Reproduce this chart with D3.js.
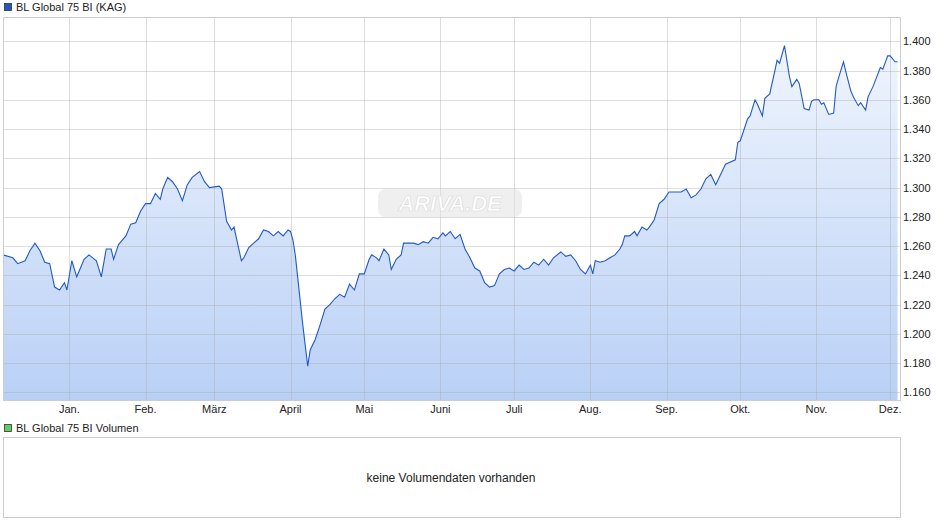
<!DOCTYPE html>
<html><head><meta charset="utf-8">
<script src="https://cdn.jsdelivr.net/npm/d3@7"></script>
<style>body{margin:0;background:#fff;font-family:"Liberation Sans",Arial,sans-serif}</style>
</head><body>
<svg id="chart" width="940" height="526"></svg>
<script>
var dates = ['2024-12-05','2024-12-09','2024-12-11','2024-12-14','2024-12-16','2024-12-18','2024-12-20','2024-12-22','2024-12-24','2024-12-26','2024-12-28','2024-12-30','2024-12-31',
'2025-01-02','2025-01-04','2025-01-07','2025-01-09','2025-01-12','2025-01-14','2025-01-16','2025-01-18','2025-01-19','2025-01-21','2025-01-24','2025-01-26','2025-01-28','2025-01-30',
'2025-02-01','2025-02-03','2025-02-05','2025-02-07','2025-02-08','2025-02-10','2025-02-12','2025-02-14','2025-02-16','2025-02-18','2025-02-20','2025-02-23','2025-02-25','2025-02-27',
'2025-03-03','2025-03-04','2025-03-06','2025-03-08','2025-03-09','2025-03-12','2025-03-13','2025-03-15','2025-03-17','2025-03-19','2025-03-21','2025-03-23','2025-03-25','2025-03-27','2025-03-29','2025-03-31',
'2025-04-01','2025-04-02','2025-04-03','2025-04-06','2025-04-08','2025-04-09','2025-04-11','2025-04-13','2025-04-15','2025-04-17','2025-04-19','2025-04-21','2025-04-23','2025-04-25','2025-04-27','2025-04-29',
'2025-05-01','2025-05-03','2025-05-04','2025-05-06','2025-05-07','2025-05-09','2025-05-11','2025-05-12','2025-05-14','2025-05-16','2025-05-17','2025-05-19','2025-05-21','2025-05-23','2025-05-25','2025-05-27','2025-05-29','2025-05-31',
'2025-06-02','2025-06-03','2025-06-05','2025-06-07','2025-06-09','2025-06-11','2025-06-13','2025-06-15','2025-06-17','2025-06-19','2025-06-21','2025-06-23','2025-06-25','2025-06-27','2025-06-29',
'2025-07-01','2025-07-03','2025-07-05','2025-07-07','2025-07-09','2025-07-11','2025-07-13','2025-07-15','2025-07-17','2025-07-20','2025-07-22','2025-07-24','2025-07-26','2025-07-28','2025-07-30',
'2025-08-01','2025-08-02','2025-08-03','2025-08-05','2025-08-07','2025-08-09','2025-08-11','2025-08-13','2025-08-14','2025-08-15','2025-08-17','2025-08-19','2025-08-20','2025-08-22','2025-08-24','2025-08-25','2025-08-27','2025-08-29','2025-08-31',
'2025-09-02','2025-09-04','2025-09-07','2025-09-09','2025-09-11','2025-09-13','2025-09-15','2025-09-17','2025-09-19','2025-09-21','2025-09-23','2025-09-25','2025-09-29','2025-09-30',
'2025-10-01','2025-10-04','2025-10-05','2025-10-07','2025-10-08','2025-10-10','2025-10-11','2025-10-13','2025-10-16','2025-10-17','2025-10-19','2025-10-21','2025-10-22','2025-10-24','2025-10-25','2025-10-27','2025-10-29','2025-10-30','2025-10-31',
'2025-11-02','2025-11-03','2025-11-04','2025-11-06','2025-11-08','2025-11-09','2025-11-10','2025-11-12','2025-11-13','2025-11-15','2025-11-16','2025-11-18','2025-11-19','2025-11-21','2025-11-22','2025-11-24','2025-11-27','2025-11-28','2025-11-30',
'2025-12-01','2025-12-03','2025-12-04'];
var values = [1.254,1.252,1.248,1.250,1.257,1.262,1.257,1.249,1.248,1.232,1.230,1.235,1.230,
1.250,1.239,1.251,1.254,1.250,1.239,1.258,1.258,1.251,1.261,1.267,1.275,1.276,1.284,
1.289,1.289,1.296,1.292,1.299,1.307,1.304,1.299,1.291,1.302,1.307,1.311,1.304,1.300,
1.301,1.299,1.277,1.271,1.273,1.250,1.252,1.259,1.262,1.265,1.271,1.270,1.267,1.270,1.267,1.271,
1.270,1.264,1.253,1.206,1.178,1.189,1.196,1.206,1.217,1.220,1.224,1.227,1.225,1.234,1.230,1.241,
1.241,1.251,1.254,1.252,1.250,1.258,1.254,1.244,1.251,1.254,1.262,1.262,1.262,1.261,1.263,1.262,1.266,1.265,
1.269,1.267,1.270,1.265,1.268,1.258,1.252,1.245,1.243,1.235,1.232,1.233,1.241,1.244,1.245,
1.243,1.247,1.244,1.245,1.249,1.247,1.251,1.247,1.252,1.256,1.253,1.254,1.250,1.244,1.241,
1.247,1.241,1.250,1.249,1.250,1.252,1.254,1.258,1.261,1.267,1.267,1.270,1.267,1.273,1.271,1.273,1.278,1.289,1.292,
1.297,1.297,1.297,1.299,1.293,1.295,1.299,1.306,1.309,1.302,1.309,1.316,1.319,1.331,
1.332,1.347,1.349,1.360,1.357,1.349,1.361,1.364,1.387,1.385,1.397,1.376,1.369,1.374,1.371,1.354,1.353,1.359,1.360,
1.360,1.357,1.358,1.350,1.351,1.369,1.375,1.386,1.379,1.366,1.362,1.356,1.358,1.353,1.362,1.369,1.382,1.381,1.390,
1.390,1.386,1.386];
var monthLabels = ['Jan.','Feb.','März','April','Mai','Juni','Juli','Aug.','Sep.','Okt.','Nov.','Dez.'];
var yTicks = [1.160,1.180,1.200,1.220,1.240,1.260,1.280,1.300,1.320,1.340,1.360,1.380,1.400];

var svg = d3.select('#chart');
var plotLeft = 3, plotRight = 900, plotTop = 17, plotBottom = 400;
var parse = d3.timeParse('%Y-%m-%d');
var data = dates.map(function (d, i) { return {date: parse(d), value: values[i]}; });

var x = d3.scaleTime().domain([parse('2024-12-05'), parse('2025-12-05')]).range([plotLeft, plotRight]);
var y = d3.scaleLinear().domain([1.1548, 1.4166]).range([plotBottom, plotTop]);

var grad = svg.append('defs').append('linearGradient').attr('id', 'areaGrad')
    .attr('gradientUnits', 'userSpaceOnUse')
    .attr('x1', 0).attr('x2', 0).attr('y1', plotTop).attr('y2', plotBottom);
grad.append('stop').attr('offset', '0').attr('stop-color', '#f4f8fe');
grad.append('stop').attr('offset', '1').attr('stop-color', '#b9d0f6');

// legend
svg.append('rect').attr('x', 4.5).attr('y', 3.5).attr('width', 7).attr('height', 7)
    .attr('fill', '#1f57c3').attr('stroke', '#333').attr('stroke-width', 0.8);
svg.append('text').attr('x', 16).attr('y', 11).attr('font-size', 11).attr('fill', '#222')
    .text('BL Global 75 BI (KAG)');

// area
svg.append('path').datum(data)
    .attr('fill', 'url(#areaGrad)')
    .attr('d', d3.area().x(function (d) { return x(d.date); }).y0(plotBottom).y1(function (d) { return y(d.value); }));

// grid
var months = monthLabels.map(function (m, i) { return new Date(2025, i, 1); });
svg.append('g').selectAll('line').data(yTicks).enter().append('line')
    .attr('x1', plotLeft).attr('x2', plotRight)
    .attr('y1', function (d) { return Math.round(y(d)) + 0.5; })
    .attr('y2', function (d) { return Math.round(y(d)) + 0.5; })
    .attr('stroke', '#aaa').attr('stroke-opacity', 0.4);
svg.append('g').selectAll('line').data(months).enter().append('line')
    .attr('y1', plotTop).attr('y2', plotBottom)
    .attr('x1', function (d) { return Math.round(x(d)) + 0.5; })
    .attr('x2', function (d) { return Math.round(x(d)) + 0.5; })
    .attr('stroke', '#aaa').attr('stroke-opacity', 0.4);

// watermark
var wm = svg.append('g').attr('transform', 'translate(450,203)');
wm.append('rect').attr('x', -72).attr('y', -14).attr('width', 144).attr('height', 28).attr('rx', 8)
    .attr('fill', '#e0e0e0').attr('opacity', 0.5);
wm.append('text').attr('text-anchor', 'middle').attr('y', 8).attr('font-size', 22)
    .attr('font-weight', 'bold').attr('font-style', 'italic').attr('fill', '#fff')
    .attr('stroke', '#d8d8d8').attr('stroke-width', 0.6).text('ARIVA.DE');

// line
svg.append('path').datum(data)
    .attr('fill', 'none').attr('stroke', '#2159c6').attr('stroke-width', 1.1)
    .attr('d', d3.line().x(function (d) { return x(d.date); }).y(function (d) { return y(d.value); }));

// frame
svg.append('rect').attr('x', plotLeft + 0.5).attr('y', plotTop + 0.5)
    .attr('width', plotRight - plotLeft).attr('height', plotBottom - plotTop)
    .attr('fill', 'none').attr('stroke', '#ccc');

// axes labels
svg.append('g').selectAll('text').data(yTicks).enter().append('text')
    .attr('x', 903).attr('y', function (d) { return y(d) + 4; })
    .attr('font-size', 11).attr('fill', '#222')
    .text(function (d) { return d.toFixed(3); });
svg.append('g').selectAll('text').data(months).enter().append('text')
    .attr('x', function (d) { return x(d); }).attr('y', 413)
    .attr('text-anchor', 'middle').attr('font-size', 11).attr('fill', '#222')
    .text(function (d, i) { return monthLabels[i]; });

// volume panel
svg.append('rect').attr('x', 4.5).attr('y', 424.5).attr('width', 7).attr('height', 7)
    .attr('fill', '#5fce5f').attr('stroke', '#333').attr('stroke-width', 0.8);
svg.append('text').attr('x', 16).attr('y', 432).attr('font-size', 11).attr('fill', '#222')
    .text('BL Global 75 BI Volumen');
svg.append('rect').attr('x', plotLeft + 0.5).attr('y', 437.5).attr('width', plotRight - plotLeft).attr('height', 80)
    .attr('fill', 'none').attr('stroke', '#ccc');
svg.append('text').attr('x', 451).attr('y', 482).attr('text-anchor', 'middle')
    .attr('font-size', 12).attr('fill', '#222').text('keine Volumendaten vorhanden');
</script>
</body></html>
